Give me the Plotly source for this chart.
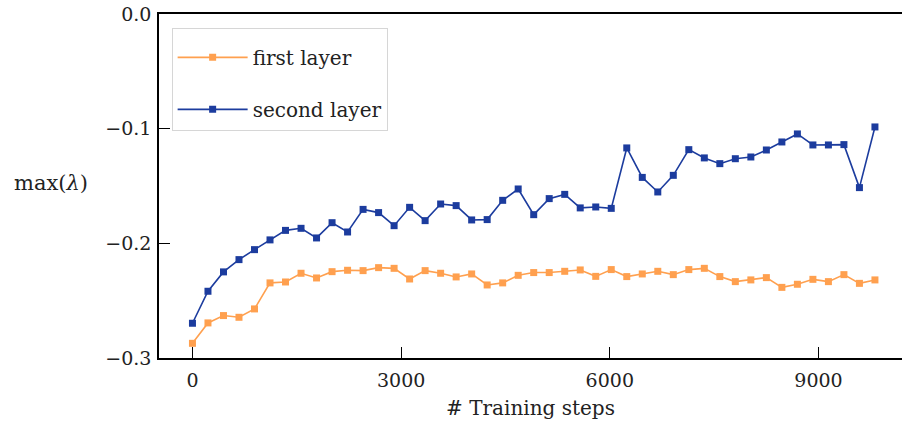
import plotly.graph_objects as go

steps = [0, 223, 446, 669, 892, 1115, 1338, 1561, 1784, 2007, 2230, 2453, 2676, 2899, 3122,
         3345, 3568, 3791, 4014, 4237, 4460, 4683, 4906, 5129, 5352, 5575, 5798, 6021, 6244,
         6467, 6690, 6913, 7136, 7359, 7582, 7805, 8028, 8251, 8474, 8697, 8920, 9143, 9366,
         9589, 9812]

first_layer = [-0.2872, -0.2694, -0.2630, -0.2645, -0.2572, -0.2345, -0.2337, -0.2261, -0.2302,
               -0.2247, -0.2235, -0.2238, -0.2212, -0.2218, -0.2311, -0.2238, -0.2261, -0.2293,
               -0.2267, -0.2363, -0.2345, -0.2279, -0.2255, -0.2255, -0.2244, -0.2232, -0.2288,
               -0.2229, -0.2290, -0.2267, -0.2244, -0.2273, -0.2229, -0.2218, -0.2290, -0.2334,
               -0.2319, -0.2299, -0.2384, -0.2357, -0.2314, -0.2334, -0.2273, -0.2349, -0.2319]

second_layer = [-0.2697, -0.2418, -0.2249, -0.2142, -0.2055, -0.1970, -0.1887, -0.1869, -0.1953,
                -0.1820, -0.1901, -0.1704, -0.1732, -0.1846, -0.1686, -0.1802, -0.1657, -0.1671,
                -0.1796, -0.1793, -0.1625, -0.1526, -0.1750, -0.1610, -0.1573, -0.1691, -0.1683,
                -0.1695, -0.1168, -0.1425, -0.1552, -0.1407, -0.1183, -0.1255, -0.1305, -0.1262,
                -0.1247, -0.1186, -0.1116, -0.1046, -0.1142, -0.1142, -0.1139, -0.1514, -0.0985]

x_ticks = [0, 3000, 6000, 9000]
x_ticklabels = ["0", "3000", "6000", "9000"]
y_ticks = [-0.3, -0.2, -0.1, 0.0]
y_ticklabels = ["\u22120.3", "\u22120.2", "\u22120.1", "0.0"]

ORANGE = "#ffa04f"
BLUE = "#1c3c9e"
FONT = "DejaVu Serif, serif"
TXT = "#222222"

fig = go.Figure()
fig.add_trace(go.Scatter(
    x=steps, y=first_layer, mode="lines+markers", name="first layer",
    legendgroup="a",
    line=dict(color=ORANGE, width=1.6),
    marker=dict(symbol="square", size=7, color=ORANGE),
))
fig.add_trace(go.Scatter(
    x=steps, y=second_layer, mode="lines+markers", name="second layer",
    legendgroup="b",
    line=dict(color=BLUE, width=1.6),
    marker=dict(symbol="square", size=7, color=BLUE),
))

fig.update_layout(
    width=902, height=424,
    margin=dict(l=159, r=0, t=14, b=66, autoexpand=False),
    paper_bgcolor="white", plot_bgcolor="white",
    font=dict(family=FONT, size=19, color=TXT),
    showlegend=True,
    legend=dict(
        x=0.017, y=0.96, xanchor="left", yanchor="top",
        bgcolor="white", bordercolor="#d6d6d6", borderwidth=1,
        font=dict(family=FONT, size=20, color=TXT),
        tracegroupgap=23, traceorder="grouped",
        itemwidth=70,
        title=dict(text=" ", font=dict(size=7)),
    ),
    xaxis=dict(
        range=[-481, 10201], automargin=False,
        tickvals=x_ticks, ticktext=x_ticklabels,
        ticks="inside", ticklen=11, tickwidth=1.2, tickcolor="black",
        showline=True, linecolor="black", linewidth=1.5, mirror=True,
        showgrid=False, zeroline=False,
        tickfont=dict(family=FONT, size=19, color=TXT),
        ticklabelstandoff=4,
        title=dict(text="# Training steps", font=dict(family=FONT, size=20, color=TXT), standoff=11),
    ),
    yaxis=dict(
        range=[-0.3, 0.0], automargin=False,
        tickvals=y_ticks, ticktext=y_ticklabels,
        ticks="inside", ticklen=11, tickwidth=1.2, tickcolor="black",
        showline=True, linecolor="black", linewidth=1.5, mirror=False,
        showgrid=False, zeroline=False,
        tickfont=dict(family=FONT, size=19, color=TXT),
        ticklabelstandoff=2,
    ),
    annotations=[dict(
        text="max(<i>\u03bb</i>)", xref="paper", yref="paper",
        x=-0.146, y=0.509, xanchor="center", yanchor="middle",
        showarrow=False, font=dict(family=FONT, size=21, color=TXT),
    )],
)

fig.write_html(
    "out.html",
    config={"displayModeBar": False},
    post_script="document.body.style.margin='0';document.body.style.overflow='hidden';",
)
